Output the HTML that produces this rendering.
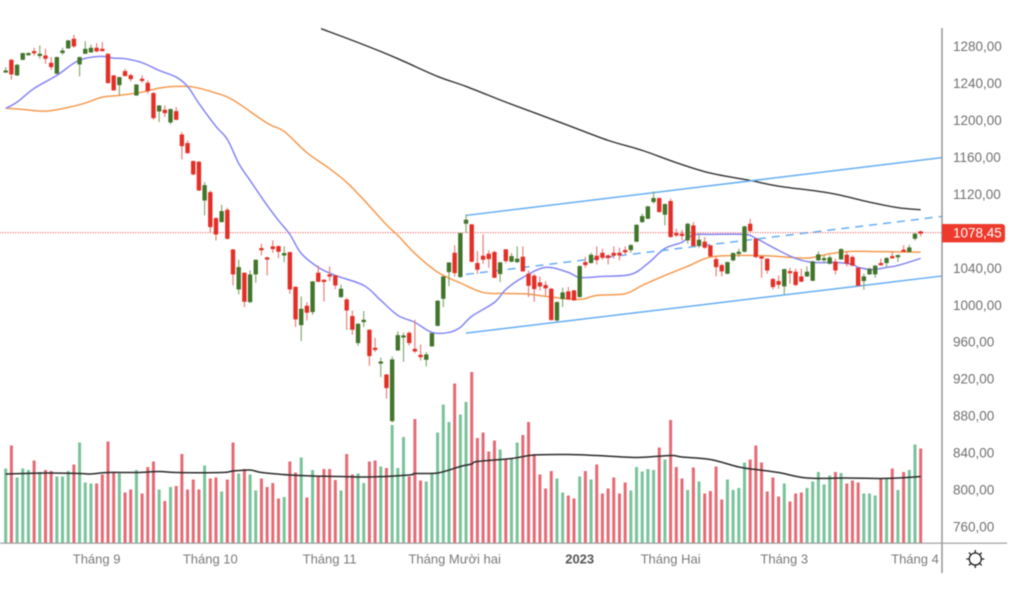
<!DOCTYPE html>
<html lang="vi">
<head>
<meta charset="utf-8">
<title>Candlestick chart</title>
<style>
html,body{margin:0;padding:0;background:#fff;width:1020px;height:594px;overflow:hidden}
#chart{display:block;filter:blur(0.4px)}
text{font-family:"Liberation Sans",Tahoma,sans-serif}
</style>
</head>
<body>
<svg id="chart" width="1020" height="594" viewBox="0 0 1020 594" xmlns="http://www.w3.org/2000/svg">
  <rect width="1020" height="594" fill="#ffffff"/>
  <g id="volumes"></g>
  <g id="overlays"></g>
  <g id="candles"></g>
  <g id="axes"></g>
  <g transform="translate(975.3,559)" fill="none" stroke="#222" stroke-width="1.3">
    <circle r="6"/>
    <path d="M0-6V-9M0 6V9M-6 0H-9M6 0H9M-4.2-4.2-6.4-6.4M4.2-4.2 6.4-6.4M-4.2 4.2-6.4 6.4M4.2 4.2 6.4 6.4"/>
  </g>
</svg>
<script>
const tickValues = [1280,1240,1200,1160,1120,1080,1040,1000,960,920,880,840,800,760];
const timeLabels = ['Tháng 9','Tháng 10','Tháng 11','Tháng Mười hai','2023','Tháng Hai','Tháng 3','Tháng 4'];
const timeLabelBars = [16,36,57,79,101,117,137,160];

const opens = [1252.2,1265.5,1248.6,1265.5,1270.6,1274.9,1270.6,1270.2,1262.3,1250.4,
1272.8,1277.8,1288.3,1260.5,1272,1273.5,1278.5,1277.4,1272,1248.6,
1238.1,1253.3,1248.9,1226.9,1245,1240.6,1229.5,1209.6,1211.4,1197.7,
1210,1184.7,1175.4,1155.9,1155.2,1113.3,1122.3,1094.2,1089.9,1103.2,
1060.3,1017,1035.1,1003.3,1033.3,1061.8,1051.7,1063.6,1063.9,1053.8,
1057.4,1019.9,978.4,999.4,992.5,1035.1,1027.5,1033.3,1032.2,1008.7,
1006.2,988.2,959,981.7,973.4,953.9,937.7,925,874.6,951,
965.8,970.1,952.8,946.3,940.9,955.4,977.7,1006.9,1035.8,1056.7,
1030.4,1088.1,1087.4,1045.6,1053.5,1055.7,1057.5,1033.7,1060.4,1047,
1046.6,1052.4,1034,1031.9,1024.6,1021.8,1017.8,983.5,1006.6,1014.9,
1016,1008.8,1046.6,1045.6,1053.5,1056.7,1053.9,1056.7,1056.7,1059.6,
1059.6,1068.7,1089.9,1093.5,1111.6,1115.9,1097.9,1112.7,1078,1077.3,
1070.1,1086.3,1064,1068.7,1064.7,1049.9,1043.4,1034,1048.5,1056.7,
1057.8,1088.1,1071.9,1052.8,1050.3,1028.3,1026.1,1020.3,1036.9,1036.2,
1031.1,1031.1,1026.4,1048.5,1049.2,1044.8,1047,1049.5,1054.6,1052.1,
1040.5,1026.1,1033.3,1033.3,1045.6,1045.6,1053.1,1053.1,1060,1057.5,
1071.9,1079.8];

const closes = [1254,1249.7,1260.1,1272.8,1272.8,1272.8,1272,1266.6,1257.6,1268.4,
1275.6,1286.5,1280,1268.4,1277.4,1278.5,1274.6,1274.9,1240.3,1232.4,
1246.8,1247.9,1244.6,1238.8,1243.2,1231.6,1202.4,1216.1,1207.8,1212.2,
1200.6,1172.1,1164.5,1141.5,1124.1,1129.9,1084.5,1076.5,1101.8,1071.8,
1033.3,1041.2,1003.7,1033.3,1049.1,1060,1049.9,1060.7,1057.8,1056.4,
1017,984.6,996.1,991.8,1025.7,1025.3,1025.7,1031.5,1021.4,1017.8,
994.3,973.4,979.9,984.2,944.9,952.8,939.1,910.3,941.3,967.6,
967.3,959,949.9,943.8,946.7,969.8,1004.8,1031.1,1046.2,1034.7,
1078,1092.5,1047,1038.4,1049.2,1049.9,1029.7,1046.3,1047.7,1053.1,
1050.3,1036.6,1021,1017.4,1020.3,1018.2,983.9,1003.4,1013.8,1006.2,
1005.2,1042.3,1043.4,1054.6,1048.8,1051.3,1051,1053.5,1053.9,1058.2,
1065,1087,1096.4,1106.9,1115.9,1100.8,1109.4,1073.7,1075.5,1075.5,
1088.1,1064,1070.8,1062.2,1052.8,1041.2,1036.6,1046.6,1056.4,1057.8,
1085.2,1080.2,1052.1,1051.7,1037.6,1019.6,1022.1,1039,1035.8,1021.8,
1025.4,1036.2,1047.4,1055,1051,1051.7,1037.6,1060.7,1044.8,1042.7,
1021,1031.1,1039.4,1042.7,1044.5,1051,1051.7,1054.2,1057.8,1062.5,
1077.3,1078.45];

const highs = [1257.6,1266.6,1261,1273,1273.5,1278.5,1281,1277.4,1268.4,1269,
1278.5,1287,1292.6,1269,1285.7,1282.1,1283.6,1284.7,1272.5,1249,
1247,1255.8,1250.4,1239,1248.6,1243.2,1230.5,1216.5,1216.1,1212.5,
1214.3,1187.3,1178.2,1156.6,1156,1133.2,1124.1,1095.3,1108.6,1105.4,
1060.8,1049.1,1035.5,1037.6,1049.5,1066.5,1052.5,1070,1064.6,1063.6,
1057.8,1020.5,1009.5,1003.3,1026,1043,1028,1041.9,1032.8,1022.4,
1008,994.3,980.5,993.6,974,964.7,943.4,925.5,944.5,971.6,
970.1,971.6,984.2,957.5,949.2,970.5,1005.5,1031.5,1046.5,1064.7,
1078.5,1098.2,1088,1058.6,1076.6,1059.3,1059,1047,1060.8,1056.4,
1063.6,1063.6,1037.6,1034,1031.1,1026.1,1018.5,1004,1018.9,1019.6,
1016.5,1043,1052.1,1056.7,1063.6,1061.1,1055,1063.6,1062.2,1063.6,
1066,1087.5,1099,1107.5,1123.1,1116.5,1110,1115.2,1082.7,1081.6,
1089,1089.9,1078,1073.7,1065,1052.1,1044.8,1047,1057,1061.1,
1086,1093.5,1072.5,1053,1050.8,1029.7,1032.2,1039.5,1040.5,1039.4,
1039.4,1042,1048,1058.2,1053.9,1053.9,1050.3,1061.5,1058.2,1053.9,
1041,1034,1040.5,1043.5,1050.3,1052,1058.2,1055,1064.7,1065.4,
1078,1080.9];

const lows = [1252,1243.9,1248,1265,1270,1269.9,1266.6,1261.2,1254.7,1250,
1271,1277.5,1278.5,1247.5,1272,1273,1273.8,1274.5,1240,1232,
1226.9,1247.5,1242.1,1226.5,1240.6,1228.8,1200.6,1198.1,1203.5,1195.6,
1199.9,1157.7,1163.8,1140.4,1123.5,1097.1,1078,1070,1089.5,1071.1,
1021.4,1011.6,997.9,1002.2,1024.2,1053.8,1032.2,1056.7,1050.9,1046.6,
1012.3,976.3,961.1,983.5,989.6,1025,1004,1026,1017.4,1008,
973.4,968,956.1,976.3,934.4,949.2,922.2,898.7,873.1,950.5,
938.8,956.1,948.1,940.2,933.7,955,977,997.9,1020.6,1031.1,
1029.5,1078,1046.5,1034,1044.8,1040.5,1029,1025,1045.6,1046.5,
1045.6,1036,1008.8,1003.7,1016,1010.2,983.5,981.7,998,1005.5,
1004.8,1008,1040.5,1045,1044.1,1049.2,1044.1,1050.3,1048.5,1055,
1056.7,1068,1089,1093,1109.8,1100,1086.3,1073,1073.7,1070,
1066.5,1063.5,1062,1061,1052,1031.1,1031.1,1033.5,1047.4,1052.1,
1057,1079,1051,1029.7,1034,1017,1017.8,1011.7,1023.2,1021,
1025,1030.5,1026,1048,1044.8,1044,1033.3,1049,1042,1042,
1020.5,1016.7,1033,1029.7,1042.7,1040.5,1050.3,1046.6,1057.5,1057,
1070.1,1074.4];

const volumes = [149,195,131,149,146,165,142,146,144,133,
133,144,157,201,121,119,119,137,203,142,
139,101,107,146,99,152,163,107,84,112,
114,178,107,127,107,155,129,131,103,127,
201,139,148,137,105,129,112,120,89,92,
163,141,171,91,146,133,148,148,126,105,
178,137,139,120,163,165,153,150,236,150,
212,133,248,125,123,139,221,277,242,319,
257,282,342,210,221,183,205,187,169,169,
201,216,242,178,137,109,144,129,101,95,
89,133,144,127,157,99,109,131,99,121,
105,152,143,148,146,191,167,246,152,129,
106,151,123,99,104,153,87,127,106,110,
161,167,195,161,103,131,93,119,83,99,
101,110,123,142,117,135,142,140,119,125,
121,99,99,95,129,129,149,106,142,146,
197,189];

const fastMaBars = [0,2,5,9,12,14,17,19,21,24,27,30,32,34,37,39,41,43,46,48,50,52,55,58,63,66,69,72,75,78,80,82,86,88,91,95,99,101,105,110,113,116,119,121,124,130,132,136,139,142,146,149,150,152,153,155,157,161];
const fastMaValues = [1212.9,1219.7,1234.6,1248.6,1261.9,1267,1269.2,1267.3,1266.7,1262.4,1254,1246.8,1236.7,1218.3,1193.4,1179.4,1153.4,1135,1108,1091.7,1076.6,1056,1040.9,1032.2,1021.4,1005.2,989,981.4,970.5,970.5,976,987.9,1003,1017,1030,1040.9,1035.5,1030,1031.1,1033.3,1045.2,1061.4,1068,1076,1076.6,1076.6,1072.3,1059.3,1050.6,1046.3,1046.3,1044.1,1040.9,1038.7,1038.7,1040.9,1043,1050.6];

const slowMaBars = [0,3,7,11,14,17,20,24,27,30,33,37,40,46,49,53,57,60,63,67,69,72,76,80,84,88,92,96,101,104,109,112,116,120,124,130,135,141,145,149,154,161];
const slowMaValues = [1213.2,1211.8,1210,1214,1218.7,1225.1,1227,1230.6,1234.9,1236.7,1236,1229.5,1222,1197,1188,1165,1147.7,1133,1114,1087,1075.5,1056,1035.8,1024,1013.8,1012.7,1012,1008.7,1006.2,1010.6,1012.4,1021.4,1032.2,1042,1052,1053.9,1053.1,1050.9,1055.7,1058.2,1057.9,1057.4];

const longMaBars = [55.5,63,69,76,81,88,93,99,106,112,118,124,131,136,145,152,157,161];
const longMaValues = [1299.2,1281.8,1266.7,1247.5,1236.7,1219.7,1208.3,1194.5,1178.3,1167.5,1154.2,1142.9,1135,1128.8,1121.3,1111.5,1105.5,1103.3];

const volumeMaBars = [0,7,13,15,18,23,27,30,38,40,43,45,50,54,59,64,71,72,76,80,82,83,89,93,99,104,111,117,119,124,129,132,136,141,148,154,157,161];
const volumeMaValues = [138,140,139,138,141,141,143,141,141,144,146,141,136,134,133,132,136,139,140,153,158,163,169,176,177,175,171,175,172,167,152,147,141,130,130,129,130,133];

const channelBars = [81,164.7];
const channelUpper = [1097.1,1159.6];
const channelMiddle = [1033.3,1096];
const channelLower = [969.8,1031.5];

const NS = 'http://www.w3.org/2000/svg';
const xOf = function(bar){ return 5.7 + 5.683 * bar; };
const yOf = function(price){ return 46.4 + (1280 - price) * 0.9242; };
const volTop = function(vol){ return 543 - vol * 0.5; };

function make(tag, attrs, parent){
  const el = document.createElementNS(NS, tag);
  for (const k in attrs) el.setAttribute(k, attrs[k]);
  parent.appendChild(el);
  return el;
}
function seriesPath(bars, values, yFn){
  const pts = bars.map(function(b, i){ return [xOf(b), yFn(values[i])]; });
  let d = 'M' + pts[0][0].toFixed(2) + ' ' + pts[0][1].toFixed(2);
  for (let i = 0; i < pts.length - 1; i++){
    const p0 = pts[Math.max(0, i - 1)];
    const p1 = pts[i];
    const p2 = pts[i + 1];
    const p3 = pts[Math.min(pts.length - 1, i + 2)];
    const c1x = p1[0] + (p2[0] - p0[0]) / 6;
    const c1y = p1[1] + (p2[1] - p0[1]) / 6;
    const c2x = p2[0] - (p3[0] - p1[0]) / 6;
    const c2y = p2[1] - (p3[1] - p1[1]) / 6;
    d += 'C' + c1x.toFixed(2) + ' ' + c1y.toFixed(2) + ' ' + c2x.toFixed(2) + ' ' + c2y.toFixed(2) + ' ' + p2[0].toFixed(2) + ' ' + p2[1].toFixed(2);
  }
  return d;
}

const volG = document.getElementById('volumes');
const candleG = document.getElementById('candles');
const overlayG = document.getElementById('overlays');
const axesG = document.getElementById('axes');

volumes.forEach(function(v, i){
  const up = closes[i] >= opens[i];
  const bar = make('rect', {x: xOf(i) - 1.5, y: volTop(v), width: 3, height: 543 - volTop(v), fill: up ? '#79c39a' : '#e66a74'}, volG);
  
  
});

function addLine(path, color, width, dash){
  const attrs = {d: path, fill: 'none', stroke: color, 'stroke-width': width, 'stroke-linejoin': 'round'};
  if (dash) attrs['stroke-dasharray'] = dash;
  return make('path', attrs, overlayG);
}
const priceLine = make('line', {x1: 0, x2: 942, y1: yOf(closes[closes.length - 1]), y2: yOf(closes[closes.length - 1]), stroke: '#e63c3c', 'stroke-width': 1, 'stroke-dasharray': '1 1.5'}, overlayG);



const longLine = addLine(seriesPath(longMaBars, longMaValues, yOf), '#333333', 1.4);


const slowLine = addLine(seriesPath(slowMaBars, slowMaValues, yOf), '#f59a50', 1.5);


const fastLine = addLine(seriesPath(fastMaBars, fastMaValues, yOf), '#8585f5', 1.5);


const upperLine = addLine(seriesPath(channelBars, channelUpper, yOf), '#64aef5', 1.5);


const middleLine = addLine(seriesPath(channelBars, channelMiddle, yOf), '#64aef5', 1.5, '8 6');


const lowerLine = addLine(seriesPath(channelBars, channelLower, yOf), '#64aef5', 1.5);


const volLine = addLine(seriesPath(volumeMaBars, volumeMaValues, volTop), '#2b2b2b', 1.5);



opens.forEach(function(o, i){
  const c = closes[i];
  const up = c >= o;
  const x = xOf(i);
  const g = make('g', {}, candleG);
  
  
  make('line', {x1: x, x2: x, y1: yOf(highs[i]), y2: yOf(lows[i]), stroke: up ? '#84ac70' : '#e87f7b', 'stroke-width': 1.2}, g);
  const top = yOf(Math.max(o, c));
  const h = Math.max(2.2, yOf(Math.min(o, c)) - top);
  make('rect', {x: x - 2.2, y: top, width: 4.4, height: h, fill: up ? '#42752b' : '#e42f27'}, g);
});

tickValues.forEach(function(t){
  const label = make('text', {x: 953, y: yOf(t) + 4.6, 'font-size': 13.5, fill: '#707070'}, axesG);
  label.textContent = t.toFixed(2).replace('.', ',');
  
  
});
timeLabels.forEach(function(t, i){
  const bold = t === '2023';
  const label = make('text', {x: xOf(timeLabelBars[i]), y: 563.5, 'font-size': 13, 'text-anchor': 'middle', fill: bold ? '#555555' : '#7a7a7a', 'font-weight': bold ? 'bold' : 'normal'}, axesG);
  label.textContent = t;
  
  
});

const yAxis = make('line', {x1: 942, x2: 942, y1: 28, y2: 573, stroke: '#8f8f8f', 'stroke-width': 1.4}, axesG);


const xAxis = make('line', {x1: 0, x2: 1007, y1: 543.2, y2: 543.2, stroke: '#9a9a9a', 'stroke-width': 1.2}, axesG);



const lastPrice = closes[closes.length - 1];
const tagY = yOf(lastPrice);
const tag = make('path', {d: 'M942 ' + (tagY - 8.7) + 'H1002a3 3 0 0 1 3 3V' + (tagY + 6.7) + 'a3 3 0 0 1 -3 3H942Z', fill: '#ee3a2c'}, axesG);


const tagText = make('text', {x: 953, y: tagY + 4.8, 'font-size': 13.5, fill: '#ffffff'}, axesG);
tagText.textContent = lastPrice.toFixed(2).replace('.', ',');


</script>
</body>
</html>
